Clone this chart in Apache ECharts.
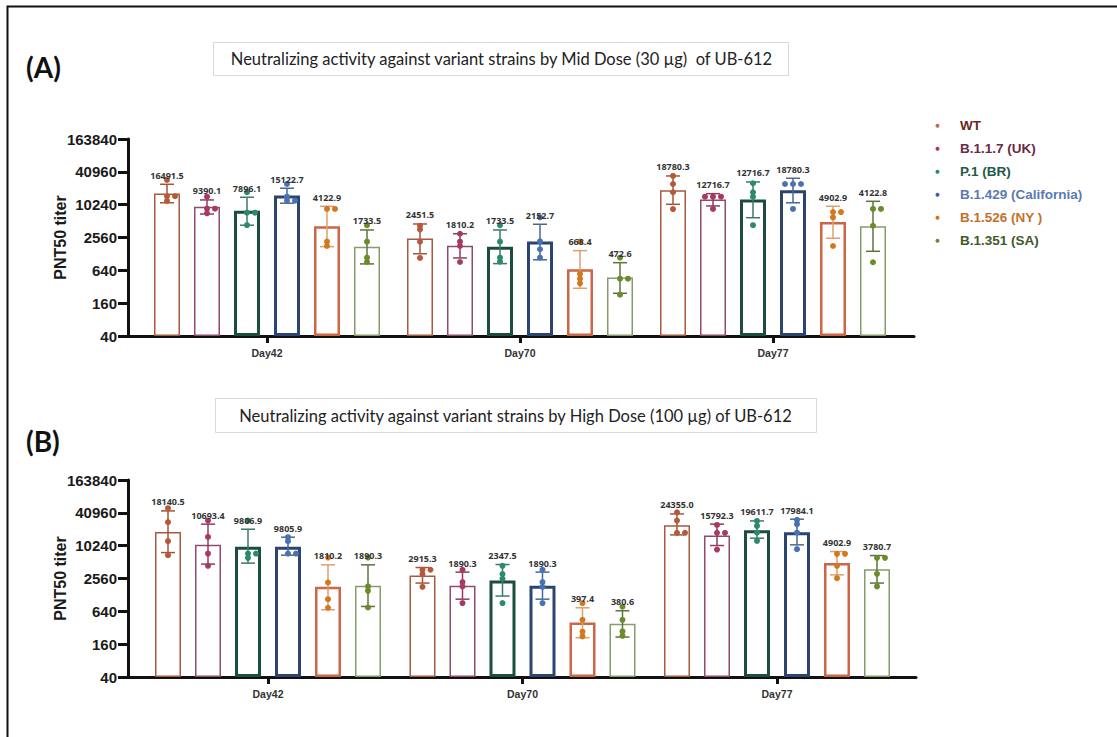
<!DOCTYPE html>
<html>
<head>
<meta charset="utf-8">
<script src="https://cdn.jsdelivr.net/npm/echarts@6/dist/echarts.min.js"></script>
<style>
  html, body { margin: 0; padding: 0; background: #ffffff; }
  #chart { width: 1117px; height: 737px; }
</style>
</head>
<body>
<div id="chart"></div>
<script>
// ---- data ----
const days = ['Day42', 'Day70', 'Day77'];
const variants = ['WT', 'B.1.1.7 (UK)', 'P.1 (BR)', 'B.1.429 (California)', 'B.1.526 (NY )', 'B.1.351 (SA)'];
const yTickLabels = [40, 160, 640, 2560, 10240, 40960, 163840];

// Mid dose (30 µg): one row per variant, one entry per day
const midMean = [
  [16491.5, 2451.5, 18780.3],
  [9390.1, 1810.2, 12716.7],
  [7896.1, 1733.5, 12716.7],
  [15122.7, 2152.7, 18780.3],
  [4122.9, 668.4, 4902.9],
  [1733.5, 472.6, 4122.8]
];
const midErrLow = [
  [11100, 1290, 10400],
  [6900, 1080, 9700],
  [4300, 850, 5900],
  [10900, 1000, 11100],
  [1740, 300, 2480],
  [840, 243, 1430]
];
const midErrHigh = [
  [24200, 4530, 34400],
  [12500, 3000, 16300],
  [14000, 3520, 26700],
  [20500, 4480, 31200],
  [9570, 1470, 9570],
  [3520, 884, 11800]
];
const midPoints = [
  [[29000, 14600, 14600, 12000], [4200, 3600, 2150, 1080], [34400, 24500, 17300, 8500]],
  [[14350, 8650, 8650, 7100], [3000, 2150, 1790, 910], [14350, 14350, 14350, 8550]],
  [[17300, 7300, 7300, 4300], [4300, 2150, 1090, 920], [25300, 17300, 14350, 4300]],
  [[24500, 14350, 12100, 12100], [6000, 2180, 1560, 1090], [24500, 24500, 24500, 8550]],
  [[8550, 8550, 2150, 1790], [2150, 550, 450, 370], [7500, 7500, 6000, 1790]],
  [[4300, 2150, 1090, 910], [1090, 450, 450, 229], [8550, 8550, 4200, 900]]
];

// High dose (100 µg)
const highMean = [
  [18140.5, 2915.3, 24355.0],
  [10693.4, 1890.3, 15792.3],
  [9806.9, 2347.5, 19611.7],
  [9805.9, 1890.3, 17984.1],
  [1810.2, 397.4, 4902.9],
  [1890.3, 380.6, 3780.7]
];
const highErrLow = [
  [7650, 2110, 16150],
  [4700, 1070, 10300],
  [4900, 1220, 14050],
  [6860, 1070, 10600],
  [683, 210, 2990],
  [786, 216, 2110]
];
const highErrHigh = [
  [44400, 4070, 39100],
  [25400, 3350, 25400],
  [20500, 4620, 29100],
  [14650, 3350, 31300],
  [4560, 743, 7990],
  [4560, 655, 6750]
];
const highPoints = [
  [[49800, 27600, 12400, 6860], [3700, 3700, 3080, 1800], [42000, 29500, 17600, 17600]],
  [[29500, 14800, 7340, 4370], [3700, 2200, 1830, 907], [24600, 17600, 17600, 8690]],
  [[29500, 7340, 7340, 6120], [4370, 3080, 2530, 907], [29100, 23600, 17800, 12500]],
  [[14650, 12400, 7340, 7340], [3700, 2200, 1800, 907], [30400, 25400, 17800, 8840]],
  [[6200, 2160, 1070, 743], [907, 448, 271, 222], [7250, 7250, 4370, 2600]],
  [[6200, 1830, 1520, 753], [776, 448, 274, 228], [6120, 6120, 3120, 1830]]
];

// ---- styling ----
const barColor   = ['#a65a3e', '#8d4c6c', '#1d4d3d', '#2c4470', '#cc6644', '#869c6c'];
const barBorder  = [1.5, 1.5, 3, 3, 2.5, 1.5];
const errColor   = ['#a3553a', '#8c3c60', '#3c7a66', '#4a6890', '#dca070', '#5c7440'];
const dotColor   = ['#b5593a', '#a83a62', '#2b8a6a', '#4872b4', '#d4781e', '#6a8c2a'];
const legendDot  = ['#c07050', '#a8386a', '#2a8a6a', '#3a60a8', '#d07020', '#6a8c30'];
const legendText = ['#6b2a1c', '#6a2a48', '#1e5a48', '#5a7ab0', '#c4702a', '#3e5a28'];

const BAR_W = 26, BAR_GAP = 14, PITCH = BAR_W + BAR_GAP;
const DOT_R = 3, DOT_STEP = 8, DOT_CLASH = 3.5;

// log base-4 position above the axis floor (40)
const T = v => Math.log(v / yTickLabels[0]) / Math.log(yTickLabels[1] / yTickLabels[0]);

const panels = [
  { top: 139, height: 197, outerLeft: 128, outerWidth: 786, innerLeft: 140.5, innerWidth: 759,
    mean: midMean, lo: midErrLow, hi: midErrHigh, pts: midPoints },
  { top: 480, height: 197, outerLeft: 128, outerWidth: 788, innerLeft: 140.75, innerWidth: 763.5,
    mean: highMean, lo: highErrLow, hi: highErrHigh, pts: highPoints }
];

const FONT_AXIS = 'Liberation Sans';
const grids = [], xAxes = [], yAxes = [], series = [];

panels.forEach((p, pi) => {
  grids.push({ left: p.outerLeft, top: p.top, width: p.outerWidth, height: p.height, outerBoundsMode: 'none' });
  grids.push({ left: p.innerLeft, top: p.top, width: p.innerWidth, height: p.height, outerBoundsMode: 'none' });
  const g0 = pi * 2, g1 = pi * 2 + 1;

  xAxes.push({
    gridIndex: g0, type: 'value', min: 0, max: 1,
    axisLine: { show: true, onZero: false, lineStyle: { color: '#111', width: 3 } },
    axisTick: { show: false }, axisLabel: { show: false }, splitLine: { show: false }
  });
  xAxes.push({
    gridIndex: g1, type: 'category', data: days,
    axisLine: { show: false },
    axisTick: { show: true, alignWithLabel: true, length: 7, lineStyle: { color: '#111', width: 3 } },
    axisLabel: { margin: 11, fontSize: 10.5, fontWeight: 'bold', color: '#333', fontFamily: FONT_AXIS },
    splitLine: { show: false }
  });
  yAxes.push({
    gridIndex: g0, type: 'value', min: 0, max: 6, interval: 1,
    axisLine: { show: true, lineStyle: { color: '#111', width: 3 } },
    axisTick: { show: true, length: 10, lineStyle: { color: '#111', width: 3 } },
    axisLabel: {
      margin: 11, fontSize: 15, fontWeight: 'bold', color: '#1a1a1a', fontFamily: FONT_AXIS,
      formatter: v => String(yTickLabels[Math.round(v)])
    },
    splitLine: { show: false },
    name: 'PNT50 titer', nameLocation: 'middle', nameGap: 60, nameMoveOverlap: false,
    nameTextStyle: { fontSize: 16, fontWeight: 'bold', color: '#1a1a1a', fontFamily: FONT_AXIS }
  });
  yAxes.push({ gridIndex: g1, type: 'value', min: 0, max: 6, show: false });

  variants.forEach((name, vi) => {
    series.push({
      type: 'bar', name, xAxisIndex: g1, yAxisIndex: g1,
      data: p.mean[vi].map(T),
      barWidth: BAR_W, barGap: (BAR_GAP / BAR_W * 100).toFixed(2) + '%',
      itemStyle: { color: '#ffffff', borderColor: barColor[vi], borderWidth: barBorder[vi] },
      silent: true, animation: false, z: 2
    });

    const data = days.map((d, di) => [di, T(p.lo[vi][di]), T(p.hi[vi][di]), p.mean[vi][di]]
      .concat(p.pts[vi][di].map(T)));

    series.push({
      type: 'custom', name, xAxisIndex: g1, yAxisIndex: g1, data,
      silent: true, animation: false, z: 3,
      renderItem: (params, api) => {
        const cat = api.value(0);
        const x = api.coord([cat, 0])[0] + (vi - 2.5) * PITCH;
        const yLo = api.coord([cat, api.value(1)])[1];
        const yHi = api.coord([cat, api.value(2)])[1];
        const lineStyle = { stroke: errColor[vi], lineWidth: 1.5 };
        const children = [
          { type: 'line', shape: { x1: x, y1: yLo, x2: x, y2: yHi }, style: lineStyle },
          { type: 'line', shape: { x1: x - 7, y1: yHi, x2: x + 7, y2: yHi }, style: lineStyle },
          { type: 'line', shape: { x1: x - 7, y1: yLo, x2: x + 7, y2: yLo }, style: lineStyle }
        ];
        // individual titers, nudged sideways where they would sit on top of each other
        const placed = [];
        for (let k = 4; k < 8; k++) {
          const y = api.coord([cat, api.value(k)])[1];
          const offsets = [0, DOT_STEP, -DOT_STEP, 2 * DOT_STEP, -2 * DOT_STEP];
          let dx = 0;
          for (const o of offsets) {
            if (placed.every(q => Math.hypot(q[0] - o, q[1] - y) >= DOT_CLASH)) { dx = o; break; }
          }
          placed.push([dx, y]);
          children.push({ type: 'circle', shape: { cx: x + dx, cy: y, r: DOT_R }, style: { fill: dotColor[vi] } });
        }
        children.push({
          type: 'text',
          style: {
            x, y: yHi - 9, text: api.value(3).toFixed(1),
            align: 'center', verticalAlign: 'middle',
            fontSize: 9, fontWeight: 'bold', fontFamily: 'Open Sans', fill: '#333'
          }
        });
        return { type: 'group', children };
      }
    });
  });
});

const chart = echarts.init(document.getElementById('chart'), null, { renderer: 'svg' });
chart.setOption({
  animation: false,
  backgroundColor: '#ffffff',
  grid: grids,
  xAxis: xAxes,
  yAxis: yAxes,
  legend: {
    orient: 'vertical', left: 935.5, top: 117.7, padding: 0,
    itemWidth: 35, itemHeight: 4, itemGap: 7, selectedMode: false,
    textStyle: { fontFamily: FONT_AXIS, fontWeight: 'bold', fontSize: 13.5, lineHeight: 16 },
    data: variants.map((n, i) => ({
      name: n, icon: 'circle',
      itemStyle: { color: legendDot[i], borderWidth: 0 },
      textStyle: { color: legendText[i] }
    }))
  },
  graphic: [
    { type: 'rect', shape: { x: 7.5, y: 6.5, width: 1200, height: 800 },
      style: { fill: 'none', stroke: '#111', lineWidth: 2 }, silent: true },
    { type: 'text', left: 26, top: 53,
      style: { text: '(A)', fontSize: 28, fontWeight: 'bold', fontFamily: 'Lato', fill: '#111' } },
    { type: 'text', left: 26, top: 427,
      style: { text: '(B)', fontSize: 28, fontWeight: 'bold', fontFamily: 'Lato', fill: '#111' } },
    { type: 'rect', shape: { x: 213.5, y: 42.5, width: 575, height: 33 },
      style: { fill: '#fff', stroke: '#d9d9d9', lineWidth: 1 }, silent: true },
    { type: 'text', x: 501.5, y: 59,
      style: { text: 'Neutralizing activity against variant strains by Mid Dose (30 µg)  of UB-612',
        align: 'center', verticalAlign: 'middle', fontSize: 16.5, fontFamily: 'Lato', fill: '#222' } },
    { type: 'rect', shape: { x: 215.5, y: 398.5, width: 601, height: 34 },
      style: { fill: '#fff', stroke: '#d9d9d9', lineWidth: 1 }, silent: true },
    { type: 'text', x: 515.5, y: 416,
      style: { text: 'Neutralizing activity against variant strains by High Dose (100 µg) of UB-612',
        align: 'center', verticalAlign: 'middle', fontSize: 16.5, fontFamily: 'Lato', fill: '#222' } }
  ],
  series
});
</script>
</body>
</html>
